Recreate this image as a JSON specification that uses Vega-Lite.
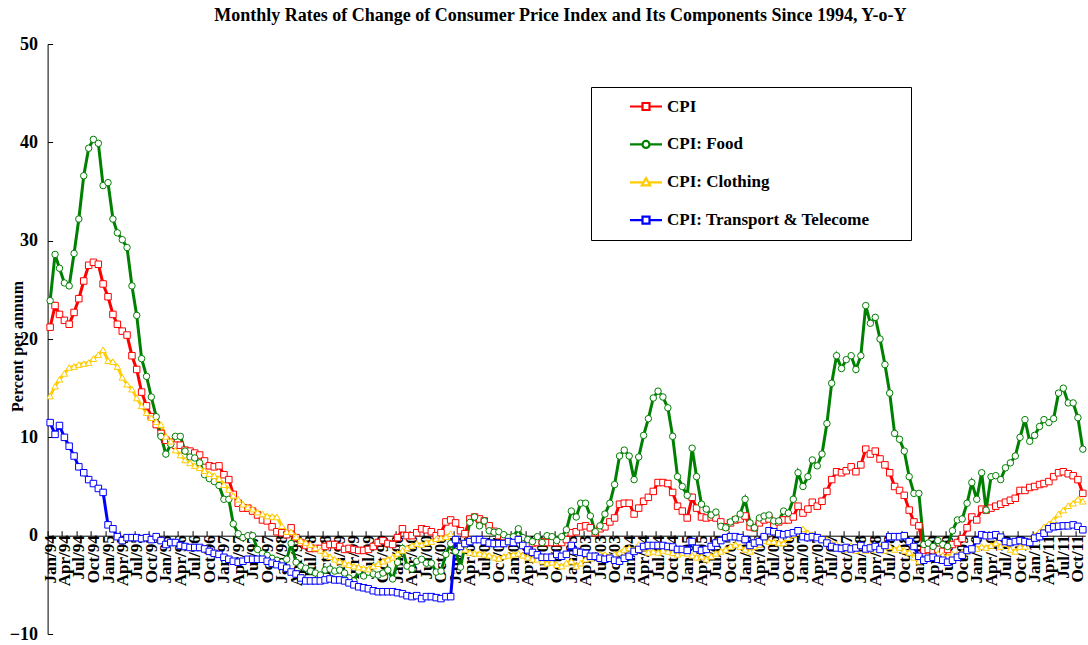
{
  "$schema": "https://vega.github.io/schema/vega-lite/v6.json",
  "width": 1037.6,
  "height": 590,
  "autosize": {"type": "none"},
  "padding": {"left": 47.6, "top": 44, "right": 2.8, "bottom": 11},
  "background": "white",
  "config": {"view": {"stroke": null}, "font": "Liberation Serif"},
  "title": {"text": "Monthly Rates of Change of Consumer Price Index and Its Components Since 1994, Y-o-Y", "font": "Liberation Serif", "fontSize": 18, "fontWeight": "bold", "color": "black", "anchor": "middle", "dx": -6, "offset": 10},
  "data": {"values": [
    {"m":"1994-01","cpi":21.2,"food":23.9,"clothing":14.2,"transport":11.5},
    {"m":"1994-02","cpi":23.4,"food":28.6,"clothing":15.2,"transport":10.3},
    {"m":"1994-03","cpi":22.5,"food":27.2,"clothing":15.9,"transport":11.2},
    {"m":"1994-04","cpi":21.9,"food":25.7,"clothing":16.5,"transport":10.0},
    {"m":"1994-05","cpi":21.5,"food":25.4,"clothing":17.1,"transport":9.1},
    {"m":"1994-06","cpi":22.7,"food":28.7,"clothing":17.2,"transport":8.1},
    {"m":"1994-07","cpi":24.1,"food":32.2,"clothing":17.4,"transport":7.0},
    {"m":"1994-08","cpi":25.9,"food":36.6,"clothing":17.5,"transport":6.4},
    {"m":"1994-09","cpi":27.5,"food":39.4,"clothing":17.6,"transport":5.7},
    {"m":"1994-10","cpi":27.8,"food":40.3,"clothing":18.0,"transport":5.3},
    {"m":"1994-11","cpi":27.6,"food":39.9,"clothing":18.4,"transport":4.8},
    {"m":"1994-12","cpi":25.6,"food":35.6,"clothing":18.9,"transport":4.4},
    {"m":"1995-01","cpi":24.3,"food":35.9,"clothing":17.8,"transport":1.1},
    {"m":"1995-02","cpi":22.5,"food":32.2,"clothing":17.7,"transport":0.7},
    {"m":"1995-03","cpi":21.5,"food":30.8,"clothing":17.2,"transport":-0.1},
    {"m":"1995-04","cpi":20.8,"food":30.1,"clothing":16.1,"transport":-0.5},
    {"m":"1995-05","cpi":20.4,"food":29.3,"clothing":15.4,"transport":-0.2},
    {"m":"1995-06","cpi":18.3,"food":25.4,"clothing":14.9,"transport":-0.2},
    {"m":"1995-07","cpi":16.9,"food":22.4,"clothing":14.0,"transport":-0.2},
    {"m":"1995-08","cpi":14.6,"food":18.0,"clothing":13.2,"transport":-0.3},
    {"m":"1995-09","cpi":13.2,"food":16.2,"clothing":12.5,"transport":-0.2},
    {"m":"1995-10","cpi":12.1,"food":14.1,"clothing":12.0,"transport":-0.4},
    {"m":"1995-11","cpi":11.3,"food":12.1,"clothing":11.6,"transport":-0.1},
    {"m":"1995-12","cpi":10.4,"food":10.1,"clothing":11.3,"transport":-0.5},
    {"m":"1996-01","cpi":9.7,"food":8.3,"clothing":10.1,"transport":-0.9},
    {"m":"1996-02","cpi":9.5,"food":9.3,"clothing":9.6,"transport":-0.7},
    {"m":"1996-03","cpi":9.2,"food":10.1,"clothing":8.7,"transport":-0.7},
    {"m":"1996-04","cpi":9.2,"food":10.1,"clothing":8.2,"transport":-1.0},
    {"m":"1996-05","cpi":8.7,"food":8.6,"clothing":7.7,"transport":-1.1},
    {"m":"1996-06","cpi":8.6,"food":8.0,"clothing":7.4,"transport":-1.2},
    {"m":"1996-07","cpi":8.4,"food":7.9,"clothing":7.1,"transport":-1.2},
    {"m":"1996-08","cpi":8.2,"food":7.4,"clothing":6.9,"transport":-1.2},
    {"m":"1996-09","cpi":7.6,"food":6.2,"clothing":6.6,"transport":-1.35},
    {"m":"1996-10","cpi":7.1,"food":5.8,"clothing":6.3,"transport":-1.6},
    {"m":"1996-11","cpi":7.0,"food":5.5,"clothing":6.1,"transport":-1.8},
    {"m":"1996-12","cpi":7.1,"food":5.1,"clothing":5.8,"transport":-1.9},
    {"m":"1997-01","cpi":6.2,"food":3.7,"clothing":5.2,"transport":-2.2},
    {"m":"1997-02","cpi":5.7,"food":3.7,"clothing":4.7,"transport":-2.4},
    {"m":"1997-03","cpi":4.2,"food":1.2,"clothing":4.1,"transport":-2.6},
    {"m":"1997-04","cpi":3.3,"food":0.2,"clothing":3.7,"transport":-2.7},
    {"m":"1997-05","cpi":2.8,"food":-0.2,"clothing":3.2,"transport":-2.6},
    {"m":"1997-06","cpi":2.8,"food":0.0,"clothing":2.9,"transport":-2.4},
    {"m":"1997-07","cpi":2.5,"food":0.0,"clothing":2.7,"transport":-2.4},
    {"m":"1997-08","cpi":2.1,"food":-1.4,"clothing":2.4,"transport":-2.4},
    {"m":"1997-09","cpi":1.6,"food":-1.8,"clothing":2.2,"transport":-2.4},
    {"m":"1997-10","cpi":1.5,"food":-2.0,"clothing":2.0,"transport":-2.6},
    {"m":"1997-11","cpi":0.9,"food":-2.3,"clothing":1.95,"transport":-2.8},
    {"m":"1997-12","cpi":0.4,"food":-2.5,"clothing":1.9,"transport":-2.95},
    {"m":"1998-01","cpi":0.3,"food":-2.7,"clothing":1.0,"transport":-3.1},
    {"m":"1998-02","cpi":0.1,"food":-2.4,"clothing":0.4,"transport":-3.3},
    {"m":"1998-03","cpi":0.8,"food":-0.8,"clothing":0.4,"transport":-3.7},
    {"m":"1998-04","cpi":-0.2,"food":-2.7,"clothing":-0.1,"transport":-3.9},
    {"m":"1998-05","cpi":-0.7,"food":-3.1,"clothing":-0.5,"transport":-4.3},
    {"m":"1998-06","cpi":-1.0,"food":-3.3,"clothing":-0.7,"transport":-4.6},
    {"m":"1998-07","cpi":-1.3,"food":-3.6,"clothing":-0.9,"transport":-4.6},
    {"m":"1998-08","cpi":-1.3,"food":-3.8,"clothing":-1.25,"transport":-4.6},
    {"m":"1998-09","cpi":-1.3,"food":-4.0,"clothing":-1.5,"transport":-4.6},
    {"m":"1998-10","cpi":-1.1,"food":-3.5,"clothing":-1.8,"transport":-4.5},
    {"m":"1998-11","cpi":-0.9,"food":-3.4,"clothing":-2.15,"transport":-4.4},
    {"m":"1998-12","cpi":-0.9,"food":-3.6,"clothing":-2.4,"transport":-4.5},
    {"m":"1999-01","cpi":-1.1,"food":-3.5,"clothing":-2.6,"transport":-4.5},
    {"m":"1999-02","cpi":-1.4,"food":-3.8,"clothing":-2.8,"transport":-4.6},
    {"m":"1999-03","cpi":-1.3,"food":-4.3,"clothing":-2.95,"transport":-4.8},
    {"m":"1999-04","cpi":-1.4,"food":-4.6,"clothing":-3.1,"transport":-5.0},
    {"m":"1999-05","cpi":-1.5,"food":-3.6,"clothing":-3.2,"transport":-5.2},
    {"m":"1999-06","cpi":-1.5,"food":-4.1,"clothing":-3.3,"transport":-5.3},
    {"m":"1999-07","cpi":-1.4,"food":-3.7,"clothing":-3.4,"transport":-5.4},
    {"m":"1999-08","cpi":-1.1,"food":-3.9,"clothing":-3.1,"transport":-5.6},
    {"m":"1999-09","cpi":-0.7,"food":-4.0,"clothing":-2.85,"transport":-5.7},
    {"m":"1999-10","cpi":-0.5,"food":-3.8,"clothing":-2.6,"transport":-5.7},
    {"m":"1999-11","cpi":-0.8,"food":-3.5,"clothing":-2.4,"transport":-5.7},
    {"m":"1999-12","cpi":-0.9,"food":-4.4,"clothing":-2.2,"transport":-5.7},
    {"m":"2000-01","cpi":-0.2,"food":-2.7,"clothing":-1.8,"transport":-5.8},
    {"m":"2000-02","cpi":0.7,"food":-1.3,"clothing":-1.5,"transport":-5.9},
    {"m":"2000-03","cpi":0.0,"food":-3.1,"clothing":-1.25,"transport":-6.1},
    {"m":"2000-04","cpi":0.0,"food":-3.4,"clothing":-1.0,"transport":-6.2},
    {"m":"2000-05","cpi":0.3,"food":-2.6,"clothing":-0.8,"transport":-6.1},
    {"m":"2000-06","cpi":0.7,"food":-2.4,"clothing":-0.9,"transport":-6.4},
    {"m":"2000-07","cpi":0.6,"food":-2.8,"clothing":-0.7,"transport":-6.2},
    {"m":"2000-08","cpi":0.4,"food":-2.8,"clothing":-0.6,"transport":-6.2},
    {"m":"2000-09","cpi":0.0,"food":-3.7,"clothing":-0.3,"transport":-6.3},
    {"m":"2000-10","cpi":0.3,"food":-3.6,"clothing":-0.25,"transport":-6.4},
    {"m":"2000-11","cpi":1.4,"food":-1.9,"clothing":-0.1,"transport":-6.2},
    {"m":"2000-12","cpi":1.6,"food":-0.8,"clothing":0.2,"transport":-6.2},
    {"m":"2001-01","cpi":1.3,"food":-1.6,"clothing":-0.4,"transport":-0.4},
    {"m":"2001-02","cpi":0.5,"food":-3.2,"clothing":-1.0,"transport":-1.1},
    {"m":"2001-03","cpi":0.2,"food":-1.0,"clothing":-1.4,"transport":-0.8},
    {"m":"2001-04","cpi":1.7,"food":1.35,"clothing":-1.7,"transport":-0.6},
    {"m":"2001-05","cpi":1.9,"food":1.9,"clothing":-1.8,"transport":-0.4},
    {"m":"2001-06","cpi":1.7,"food":1.0,"clothing":-1.8,"transport":-0.4},
    {"m":"2001-07","cpi":1.5,"food":1.5,"clothing":-1.9,"transport":-0.6},
    {"m":"2001-08","cpi":1.0,"food":0.5,"clothing":-2.0,"transport":-0.75},
    {"m":"2001-09","cpi":0.45,"food":0.35,"clothing":-2.2,"transport":-0.8},
    {"m":"2001-10","cpi":0.0,"food":0.4,"clothing":-2.3,"transport":-0.8},
    {"m":"2001-11","cpi":-0.1,"food":0.1,"clothing":-2.1,"transport":-0.8},
    {"m":"2001-12","cpi":-0.25,"food":-0.2,"clothing":-2.0,"transport":-0.6},
    {"m":"2002-01","cpi":-0.3,"food":-0.1,"clothing":-1.9,"transport":-0.7},
    {"m":"2002-02","cpi":-0.4,"food":0.7,"clothing":-1.8,"transport":-0.4},
    {"m":"2002-03","cpi":-0.6,"food":-0.2,"clothing":-2.0,"transport":-1.0},
    {"m":"2002-04","cpi":-0.8,"food":-0.4,"clothing":-2.2,"transport":-1.45},
    {"m":"2002-05","cpi":-0.75,"food":-0.6,"clothing":-2.4,"transport":-1.7},
    {"m":"2002-06","cpi":-0.7,"food":-0.1,"clothing":-2.4,"transport":-1.95},
    {"m":"2002-07","cpi":-0.6,"food":-0.7,"clothing":-2.6,"transport":-2.2},
    {"m":"2002-08","cpi":-0.7,"food":0.0,"clothing":-2.8,"transport":-2.2},
    {"m":"2002-09","cpi":-0.7,"food":-0.1,"clothing":-2.7,"transport":-2.2},
    {"m":"2002-10","cpi":-0.7,"food":-0.5,"clothing":-2.95,"transport":-1.9},
    {"m":"2002-11","cpi":-0.7,"food":-0.1,"clothing":-3.1,"transport":-2.1},
    {"m":"2002-12","cpi":-0.4,"food":0.6,"clothing":-2.8,"transport":-1.9},
    {"m":"2003-01","cpi":0.3,"food":2.5,"clothing":-2.6,"transport":-1.0},
    {"m":"2003-02","cpi":0.4,"food":1.9,"clothing":-3.1,"transport":-1.6},
    {"m":"2003-03","cpi":0.9,"food":3.3,"clothing":-2.8,"transport":-1.7},
    {"m":"2003-04","cpi":1.0,"food":3.3,"clothing":-2.4,"transport":-1.8},
    {"m":"2003-05","cpi":0.8,"food":2.0,"clothing":-2.3,"transport":-2.1},
    {"m":"2003-06","cpi":0.3,"food":0.4,"clothing":-2.1,"transport":-2.1},
    {"m":"2003-07","cpi":0.7,"food":1.0,"clothing":-1.9,"transport":-2.3},
    {"m":"2003-08","cpi":0.9,"food":2.2,"clothing":-1.9,"transport":-2.4},
    {"m":"2003-09","cpi":1.4,"food":3.3,"clothing":-2.1,"transport":-2.3},
    {"m":"2003-10","cpi":1.8,"food":5.2,"clothing":-1.9,"transport":-2.5},
    {"m":"2003-11","cpi":3.2,"food":8.1,"clothing":-1.7,"transport":-2.6},
    {"m":"2003-12","cpi":3.3,"food":8.7,"clothing":-1.4,"transport":-2.3},
    {"m":"2004-01","cpi":3.3,"food":8.1,"clothing":-1.25,"transport":-2.1},
    {"m":"2004-02","cpi":2.2,"food":5.7,"clothing":-1.4,"transport":-1.6},
    {"m":"2004-03","cpi":2.8,"food":8.0,"clothing":-0.9,"transport":-1.4},
    {"m":"2004-04","cpi":3.5,"food":10.2,"clothing":-1.25,"transport":-1.1},
    {"m":"2004-05","cpi":3.9,"food":11.9,"clothing":-1.7,"transport":-1.0},
    {"m":"2004-06","cpi":4.5,"food":14.0,"clothing":-1.6,"transport":-1.0},
    {"m":"2004-07","cpi":5.4,"food":14.7,"clothing":-1.7,"transport":-1.0},
    {"m":"2004-08","cpi":5.4,"food":14.1,"clothing":-1.5,"transport":-1.0},
    {"m":"2004-09","cpi":5.3,"food":13.0,"clothing":-1.6,"transport":-1.1},
    {"m":"2004-10","cpi":4.4,"food":10.1,"clothing":-1.75,"transport":-1.15},
    {"m":"2004-11","cpi":3.0,"food":6.0,"clothing":-1.9,"transport":-1.4},
    {"m":"2004-12","cpi":2.5,"food":5.0,"clothing":-1.7,"transport":-1.4},
    {"m":"2005-01","cpi":1.8,"food":4.1,"clothing":-1.8,"transport":-1.5},
    {"m":"2005-02","cpi":3.9,"food":8.9,"clothing":-2.0,"transport":-0.6},
    {"m":"2005-03","cpi":2.8,"food":6.0,"clothing":-2.2,"transport":-1.3},
    {"m":"2005-04","cpi":1.9,"food":3.2,"clothing":-2.1,"transport":-1.5},
    {"m":"2005-05","cpi":1.8,"food":2.7,"clothing":-2.4,"transport":-1.4},
    {"m":"2005-06","cpi":1.9,"food":2.1,"clothing":-2.1,"transport":-1.1},
    {"m":"2005-07","cpi":1.8,"food":2.4,"clothing":-1.8,"transport":-0.75},
    {"m":"2005-08","cpi":1.4,"food":0.95,"clothing":-1.6,"transport":-0.5},
    {"m":"2005-09","cpi":0.9,"food":0.8,"clothing":-1.4,"transport":-0.2},
    {"m":"2005-10","cpi":1.3,"food":1.4,"clothing":-1.1,"transport":-0.1},
    {"m":"2005-11","cpi":1.6,"food":1.7,"clothing":-0.9,"transport":-0.1},
    {"m":"2005-12","cpi":1.7,"food":2.2,"clothing":-1.1,"transport":-0.2},
    {"m":"2006-01","cpi":2.0,"food":3.7,"clothing":-1.4,"transport":-0.4},
    {"m":"2006-02","cpi":0.9,"food":1.3,"clothing":-1.6,"transport":-1.0},
    {"m":"2006-03","cpi":0.8,"food":0.8,"clothing":-1.1,"transport":-0.75},
    {"m":"2006-04","cpi":1.3,"food":1.8,"clothing":-0.9,"transport":-0.6},
    {"m":"2006-05","cpi":1.6,"food":2.0,"clothing":-0.5,"transport":-0.1},
    {"m":"2006-06","cpi":1.7,"food":2.1,"clothing":-0.6,"transport":0.5},
    {"m":"2006-07","cpi":1.0,"food":1.5,"clothing":-0.6,"transport":0.4},
    {"m":"2006-08","cpi":1.4,"food":1.5,"clothing":-0.75,"transport":0.2},
    {"m":"2006-09","cpi":1.6,"food":2.5,"clothing":-0.75,"transport":0.1},
    {"m":"2006-10","cpi":1.6,"food":2.3,"clothing":-0.2,"transport":0.2},
    {"m":"2006-11","cpi":1.9,"food":3.7,"clothing":0.1,"transport":0.3},
    {"m":"2006-12","cpi":3.0,"food":6.4,"clothing":0.3,"transport":0.5},
    {"m":"2007-01","cpi":2.3,"food":5.0,"clothing":0.7,"transport":-0.1},
    {"m":"2007-02","cpi":2.7,"food":6.0,"clothing":0.3,"transport":-0.2},
    {"m":"2007-03","cpi":3.4,"food":7.7,"clothing":0.1,"transport":-0.1},
    {"m":"2007-04","cpi":3.0,"food":7.1,"clothing":-0.1,"transport":-0.2},
    {"m":"2007-05","cpi":3.5,"food":8.3,"clothing":-0.2,"transport":-0.4},
    {"m":"2007-06","cpi":4.5,"food":11.4,"clothing":-0.4,"transport":-0.75},
    {"m":"2007-07","cpi":5.7,"food":15.5,"clothing":-0.75,"transport":-1.1},
    {"m":"2007-08","cpi":6.5,"food":18.3,"clothing":-0.9,"transport":-1.25},
    {"m":"2007-09","cpi":6.4,"food":17.0,"clothing":-1.1,"transport":-1.3},
    {"m":"2007-10","cpi":6.6,"food":17.9,"clothing":-1.4,"transport":-1.2},
    {"m":"2007-11","cpi":7.0,"food":18.3,"clothing":-1.0,"transport":-1.35},
    {"m":"2007-12","cpi":6.5,"food":16.9,"clothing":-1.5,"transport":-1.25},
    {"m":"2008-01","cpi":7.2,"food":18.3,"clothing":-1.1,"transport":-1.0},
    {"m":"2008-02","cpi":8.8,"food":23.4,"clothing":-1.5,"transport":-1.35},
    {"m":"2008-03","cpi":8.3,"food":21.6,"clothing":-1.0,"transport":-1.25},
    {"m":"2008-04","cpi":8.6,"food":22.2,"clothing":-1.4,"transport":-1.1},
    {"m":"2008-05","cpi":7.8,"food":20.0,"clothing":-1.1,"transport":-1.4},
    {"m":"2008-06","cpi":7.2,"food":17.4,"clothing":-1.5,"transport":-1.0},
    {"m":"2008-07","cpi":6.4,"food":14.5,"clothing":-1.1,"transport":-0.1},
    {"m":"2008-08","cpi":5.0,"food":10.4,"clothing":-1.4,"transport":-0.1},
    {"m":"2008-09","cpi":4.6,"food":9.8,"clothing":-1.2,"transport":-0.1},
    {"m":"2008-10","cpi":4.1,"food":8.6,"clothing":-1.5,"transport":0.0},
    {"m":"2008-11","cpi":2.6,"food":6.0,"clothing":-1.7,"transport":-0.6},
    {"m":"2008-12","cpi":1.4,"food":4.3,"clothing":-2.2,"transport":-1.1},
    {"m":"2009-01","cpi":1.0,"food":4.3,"clothing":-2.6,"transport":-2.1},
    {"m":"2009-02","cpi":-1.5,"food":-0.9,"clothing":-2.4,"transport":-2.5},
    {"m":"2009-03","cpi":-1.4,"food":-0.75,"clothing":-2.2,"transport":-2.3},
    {"m":"2009-04","cpi":-1.5,"food":-1.1,"clothing":-2.0,"transport":-2.2},
    {"m":"2009-05","cpi":-1.4,"food":-0.5,"clothing":-1.8,"transport":-2.4},
    {"m":"2009-06","cpi":-1.6,"food":-0.9,"clothing":-2.0,"transport":-2.5},
    {"m":"2009-07","cpi":-1.4,"food":-1.1,"clothing":-2.1,"transport":-2.7},
    {"m":"2009-08","cpi":-0.9,"food":0.5,"clothing":-1.9,"transport":-2.5},
    {"m":"2009-09","cpi":-0.7,"food":1.6,"clothing":-1.9,"transport":-2.2},
    {"m":"2009-10","cpi":-0.3,"food":1.7,"clothing":-1.7,"transport":-2.0},
    {"m":"2009-11","cpi":0.8,"food":3.3,"clothing":-1.6,"transport":-1.5},
    {"m":"2009-12","cpi":1.9,"food":5.4,"clothing":-1.4,"transport":-1.35},
    {"m":"2010-01","cpi":1.6,"food":3.7,"clothing":-1.3,"transport":-0.5},
    {"m":"2010-02","cpi":2.7,"food":6.4,"clothing":-1.1,"transport":0.1},
    {"m":"2010-03","cpi":2.6,"food":2.6,"clothing":-1.2,"transport":0.0},
    {"m":"2010-04","cpi":2.8,"food":6.0,"clothing":-1.0,"transport":0.0},
    {"m":"2010-05","cpi":3.0,"food":6.1,"clothing":-0.75,"transport":0.1},
    {"m":"2010-06","cpi":3.2,"food":5.7,"clothing":-1.1,"transport":-0.15},
    {"m":"2010-07","cpi":3.4,"food":6.9,"clothing":-0.8,"transport":-0.6},
    {"m":"2010-08","cpi":3.6,"food":7.4,"clothing":-1.4,"transport":-0.7},
    {"m":"2010-09","cpi":3.8,"food":8.1,"clothing":-1.6,"transport":-0.6},
    {"m":"2010-10","cpi":4.6,"food":10.0,"clothing":-1.1,"transport":-0.5},
    {"m":"2010-11","cpi":4.6,"food":11.8,"clothing":-1.1,"transport":-0.6},
    {"m":"2010-12","cpi":4.9,"food":9.6,"clothing":-0.5,"transport":-0.7},
    {"m":"2011-01","cpi":5.0,"food":10.2,"clothing":0.0,"transport":-0.25},
    {"m":"2011-02","cpi":5.2,"food":11.1,"clothing":0.4,"transport":-0.1},
    {"m":"2011-03","cpi":5.3,"food":11.8,"clothing":0.9,"transport":0.25},
    {"m":"2011-04","cpi":5.5,"food":11.5,"clothing":1.2,"transport":0.7},
    {"m":"2011-05","cpi":6.0,"food":11.9,"clothing":1.6,"transport":0.9},
    {"m":"2011-06","cpi":6.4,"food":14.5,"clothing":2.2,"transport":0.95},
    {"m":"2011-07","cpi":6.5,"food":15.0,"clothing":2.6,"transport":1.0},
    {"m":"2011-08","cpi":6.3,"food":13.5,"clothing":3.05,"transport":1.0},
    {"m":"2011-09","cpi":6.1,"food":13.5,"clothing":3.3,"transport":1.1},
    {"m":"2011-10","cpi":5.7,"food":12.0,"clothing":3.7,"transport":0.95},
    {"m":"2011-11","cpi":4.3,"food":8.8,"clothing":3.5,"transport":0.6}
  ]},
  "transform": [{"fold": ["cpi", "food", "clothing", "transport"], "as": ["series", "value"]}],
  "encoding": {
    "x": {
      "field": "m", "type": "temporal",
      "scale": {"type": "utc", "domain": [{"year": 1993, "month": 12, "date": 16, "utc": true}, {"year": 2011, "month": 11, "date": 16, "utc": true}]},
      "axis": {
        "title": null, "orient": "bottom", "offset": -98.3, "format": "%b/%y",
        "tickCount": {"interval": "month", "step": 3},
        "labelAngle": -90, "labelFont": "Liberation Serif", "labelFontWeight": "bold", "labelFontSize": 17, "labelColor": "black",
        "labelOverlap": false, "labelFlush": false, "labelBound": false, "labelPadding": 4,
        "tickSize": -5, "tickColor": "black", "domainColor": "black", "tickOffset": -2.4, "labelOffset": 2.4, "grid": false
      }
    },
    "y": {
      "field": "value", "type": "quantitative",
      "scale": {"domain": [-10, 50], "nice": false, "zero": false},
      "axis": {
        "title": "Percent per annum", "values": [-10, 0, 10, 20, 30, 40, 50], "grid": false,
        "domainColor": "black", "tickColor": "black", "tickSize": -5,
        "labelFont": "Liberation Serif", "labelFontSize": 18, "labelFontWeight": "bold", "labelColor": "black", "labelPadding": 15,
        "titleFont": "Liberation Serif", "titleFontSize": 16, "titleFontWeight": "bold", "titleColor": "black",
        "titleX": -30, "titleY": 302, "titleBaseline": "middle", "titleAlign": "center", "titleAngle": -90
      }
    }
  },
  "layer": [
    {
      "mark": {"type": "line", "strokeWidth": 3},
      "encoding": {
        "color": {
          "field": "series", "type": "nominal",
          "scale": {"domain": ["cpi", "food", "clothing", "transport"], "range": ["#FF0000", "#008000", "#FFCC00", "#0000FF"]},
          "legend": {
            "orient": "none", "legendX": 543.4, "legendY": 43, "title": " ", "titleOrient": "right", "titlePadding": 30, "direction": "vertical",
            "strokeColor": "black", "fillColor": "white", "padding": 11, "rowPadding": 19.9,
            "symbolSize": 196, "symbolOffset": 35.5, "symbolStrokeWidth": 2.2, "symbolType": "stroke", "symbolFillColor": "white", "symbolOpacity": 1,
            "labelFont": "Liberation Serif", "labelFontSize": 17, "labelFontWeight": "bold", "labelColor": "black", "labelOffset": 12.5, "labelLimit": 0,
            "labelExpr": "datum.value == 'cpi' ? 'CPI' : datum.value == 'food' ? 'CPI: Food' : datum.value == 'clothing' ? 'CPI: Clothing' : 'CPI: Transport & Telecome'"
          }
        }
      }
    },
    {
      "mark": {"type": "point", "filled": false, "opacity": 0},
      "encoding": {
        "stroke": {"field": "series", "type": "nominal", "scale": {"domain": ["cpi", "food", "clothing", "transport"], "range": ["#FF0000", "#008000", "#FFCC00", "#0000FF"]}, "legend": null},
        "shape": {"field": "series", "type": "nominal", "scale": {"domain": ["cpi", "food", "clothing", "transport"], "range": ["M-2.29,0H-0.5M0.5,0H2.29M-0.5,-0.5H0.5V0.5H-0.5Z", "M-2.29,0H-0.5M0.5,0H2.29M-0.5,0A0.5,0.5,0,1,0,0.5,0A0.5,0.5,0,1,0,-0.5,0Z", "M-2.29,0H-0.34M0.34,0H2.29M0,-0.6L0.6,0.45L-0.6,0.45Z", "M-2.29,0H-0.5M0.5,0H2.29M-0.5,-0.5H0.5V0.5H-0.5Z"]}, "legend": null}
      }
    },
    {
      "transform": [{"filter": {"field": "series", "equal": "cpi"}}],
      "mark": {"type": "point", "shape": "square", "filled": false, "fill": "white", "stroke": "#FF0000", "size": 42, "strokeWidth": 1, "opacity": 1}
    },
    {
      "transform": [{"filter": {"field": "series", "equal": "food"}}],
      "mark": {"type": "point", "shape": "circle", "filled": false, "fill": "white", "stroke": "#008000", "size": 42, "strokeWidth": 1, "opacity": 1}
    },
    {
      "transform": [{"filter": {"field": "series", "equal": "clothing"}}],
      "mark": {"type": "point", "shape": "triangle-up", "filled": false, "fill": "white", "stroke": "#FFCC00", "size": 42, "strokeWidth": 1, "opacity": 1}
    },
    {
      "transform": [{"filter": {"field": "series", "equal": "transport"}}],
      "mark": {"type": "point", "shape": "square", "filled": false, "fill": "white", "stroke": "#0000FF", "size": 42, "strokeWidth": 1, "opacity": 1}
    }
  ]
}
